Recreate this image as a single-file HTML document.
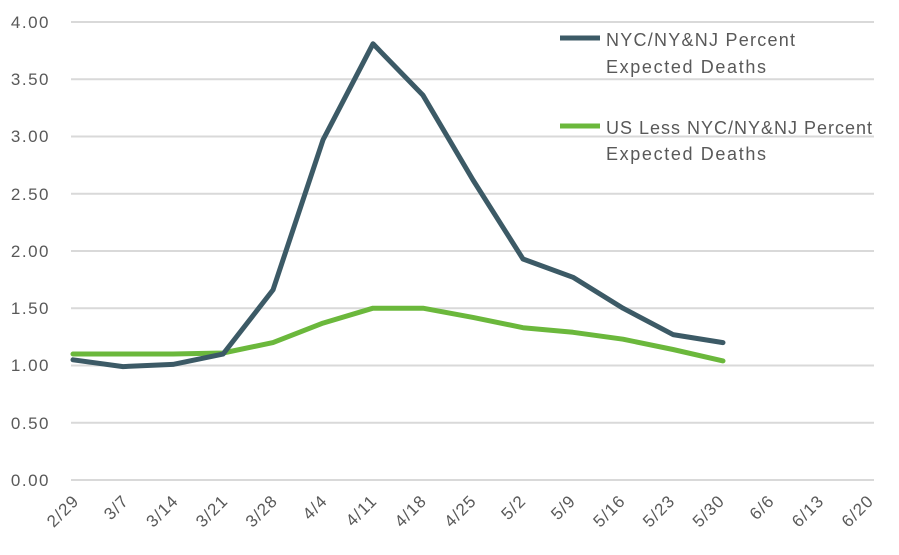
<!DOCTYPE html><html><head><style>body{margin:0;background:#fff}svg{font-family:"Liberation Sans",sans-serif}</style></head><body>
<svg width="899" height="550" xmlns="http://www.w3.org/2000/svg">
<g stroke="#d9d9d9" stroke-width="2">
<line x1="71" x2="874" y1="22" y2="22"/><line x1="71" x2="874" y1="79.2" y2="79.2"/><line x1="71" x2="874" y1="136.5" y2="136.5"/><line x1="71" x2="874" y1="193.7" y2="193.7"/><line x1="71" x2="874" y1="251" y2="251"/><line x1="71" x2="874" y1="308.2" y2="308.2"/><line x1="71" x2="874" y1="365.5" y2="365.5"/><line x1="71" x2="874" y1="422.7" y2="422.7"/><line x1="71" x2="874" y1="480" y2="480"/>
</g>
<g fill="#595959" font-size="17" text-anchor="end" letter-spacing="1.5">
<text x="50" y="28">4.00</text><text x="50" y="85">3.50</text><text x="50" y="142">3.00</text><text x="50" y="200">2.50</text><text x="50" y="257">2.00</text><text x="50" y="314">1.50</text><text x="50" y="371">1.00</text><text x="50" y="429">0.50</text><text x="50" y="486">0.00</text>
</g>
<g fill="#595959" font-size="17" text-anchor="end" letter-spacing="1">
<text transform="translate(80,502) rotate(-45)">2/29</text>
<text transform="translate(129.7,502) rotate(-45)">3/7</text>
<text transform="translate(179.4,502) rotate(-45)">3/14</text>
<text transform="translate(229,502) rotate(-45)">3/21</text>
<text transform="translate(278.7,502) rotate(-45)">3/28</text>
<text transform="translate(328.4,502) rotate(-45)">4/4</text>
<text transform="translate(378,502) rotate(-45)">4/11</text>
<text transform="translate(427.7,502) rotate(-45)">4/18</text>
<text transform="translate(477.4,502) rotate(-45)">4/25</text>
<text transform="translate(527,502) rotate(-45)">5/2</text>
<text transform="translate(576.7,502) rotate(-45)">5/9</text>
<text transform="translate(626.4,502) rotate(-45)">5/16</text>
<text transform="translate(676,502) rotate(-45)">5/23</text>
<text transform="translate(725.7,502) rotate(-45)">5/30</text>
<text transform="translate(775.4,502) rotate(-45)">6/6</text>
<text transform="translate(825,502) rotate(-45)">6/13</text>
<text transform="translate(874.7,502) rotate(-45)">6/20</text>
</g>
<polyline fill="none" stroke="#6bb83c" stroke-width="5" stroke-linecap="round" stroke-linejoin="round" points="73,354 123,354 173,354 223,353 273,342.6 323,323.1 373,308.2 423,308.2 473,317.4 523,327.7 573,332.3 623,339.2 673,349.5 723,360.9"/>
<polyline fill="none" stroke="#3c5a66" stroke-width="5" stroke-linecap="round" stroke-linejoin="round" points="73,359.8 123,366.6 173,364.4 223,354.1 273,289.9 323,139.9 373,43.8 423,95.3 473,180 523,259 573,277.3 623,308.2 673,334.6 723,342.6"/>
<line x1="560" x2="600" y1="38" y2="38" stroke="#3c5a66" stroke-width="5"/>
<line x1="560" x2="600" y1="126" y2="126" stroke="#6bb83c" stroke-width="5"/>
<g fill="#595959" font-size="18">
<text x="606" y="46" textLength="189" lengthAdjust="spacing">NYC/NY&amp;NJ Percent</text><text x="606" y="73" textLength="160" lengthAdjust="spacing">Expected Deaths</text>
<text x="606" y="134" textLength="266" lengthAdjust="spacing">US Less NYC/NY&amp;NJ Percent</text><text x="606" y="160" textLength="160" lengthAdjust="spacing">Expected Deaths</text>
</g>
</svg></body></html>
